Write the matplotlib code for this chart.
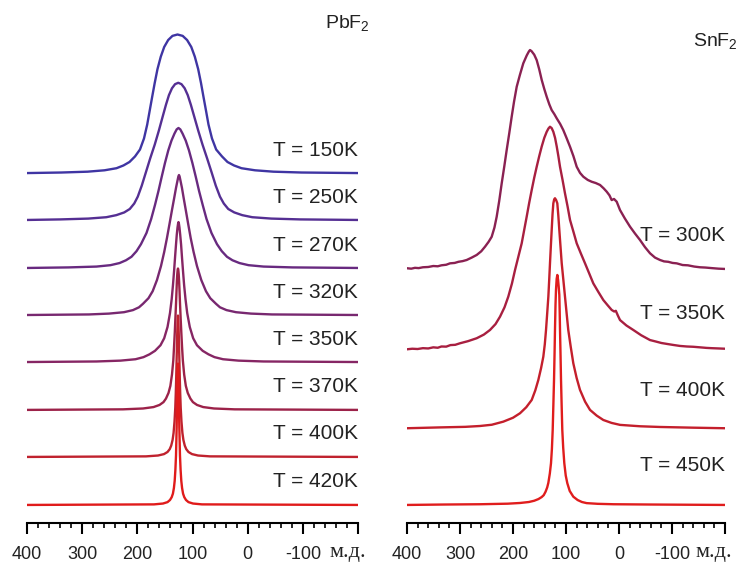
import matplotlib
matplotlib.use("Agg")
import matplotlib.pyplot as plt
from matplotlib.ticker import FixedLocator, MultipleLocator

plt.rcParams["font.family"] = ["Liberation Sans", "DejaVu Sans"]
plt.rcParams["mathtext.fontset"] = "custom"
plt.rcParams["mathtext.rm"] = "Liberation Sans"

LEVELS = [0.004, 0.01, 0.02, 0.035, 0.055, 0.08, 0.12, 0.17, 0.25, 0.35,
          0.45, 0.55, 0.65, 0.75, 0.84, 0.91, 0.96, 0.99, 1.0]

PBF2_TEMPS = [150, 250, 270, 320, 350, 370, 400, 420]
# low-field (left) side position of each level, ppm
PBF2_LEFT_PPM = [
    [337.5, 290.3, 259.5, 237.8, 225.1, 214.2, 204.2, 195.2, 187.9, 182.1,
     177.6, 173.1, 168.5, 163.5, 157.5, 151.3, 144.1, 136.3, 127.2],
    [339.7, 288.9, 256.3, 238.2, 223.7, 213.7, 205.6, 199.2, 192.0, 184.3,
     176.6, 168.4, 161.1, 154.3, 148.1, 142.7, 137.2, 131.6, 125.8],
    [324.8, 274.0, 248.7, 232.3, 220.6, 210.6, 201.5, 193.4, 183.4, 174.9,
     168.0, 161.7, 155.9, 149.9, 143.9, 138.1, 132.7, 128.7, 125.4],
    [287.6, 251.4, 224.2, 207.9, 197.0, 189.8, 179.8, 172.2, 164.4, 157.1,
     151.3, 146.3, 141.7, 137.2, 133.0, 129.8, 127.2, 125.6, 124.5],
    [274.0, 230.5, 203.3, 188.8, 178.0, 168.0, 158.0, 151.3, 145.3, 140.8,
     137.7, 135.4, 133.4, 131.6, 129.9, 128.5, 127.2, 126.1, 125.4],
    [226.0, 189.7, 170.7, 159.8, 152.6, 148.1, 143.5, 140.1, 137.2, 134.8,
     133.4, 132.1, 131.0, 129.9, 129.0, 128.3, 127.6, 126.9, 126.3],
    [184.3, 162.6, 151.7, 145.3, 141.3, 138.6, 136.1, 134.3, 132.6, 131.2,
     130.3, 129.6, 129.0, 128.4, 127.9, 127.4, 127.0, 126.7, 126.3],
    [169.8, 153.5, 145.3, 140.8, 137.7, 135.5, 133.7, 132.3, 131.0, 129.9,
     129.3, 128.7, 128.3, 127.9, 127.5, 127.2, 126.8, 126.6, 126.3],
]
# high-field (right) side position of each level, ppm
PBF2_RIGHT_PPM = [
    [-97.6, -46.8, -13.3, 11.2, 24.8, 36.6, 46.5, 57.1, 64.7, 71.0,
     75.5, 80.1, 84.6, 89.7, 95.8, 102.2, 109.8, 117.8, 127.2],
    [-95.3, -42.8, -8.3, 9.8, 24.3, 35.2, 43.3, 50.2, 57.8, 65.6,
     73.6, 81.9, 89.5, 96.6, 103.0, 108.6, 114.2, 120.0, 125.8],
    [-81.2, -28.7, -1.5, 14.8, 27.5, 37.5, 46.9, 55.6, 65.6, 74.6,
     81.5, 88.1, 94.0, 100.2, 106.4, 112.3, 118.0, 122.1, 125.4],
    [-44.1, -6.0, 21.2, 38.4, 50.2, 57.4, 67.8, 75.6, 84.1, 91.9,
     98.0, 103.3, 107.8, 112.2, 116.2, 119.2, 121.8, 123.4, 124.5],
    [-28.7, 16.6, 44.7, 60.1, 71.0, 81.5, 91.9, 98.8, 104.9, 109.6,
     112.7, 115.2, 117.2, 119.1, 120.7, 122.3, 123.6, 124.7, 125.4],
    [23.6, 61.0, 80.6, 91.8, 99.2, 103.8, 108.6, 112.1, 115.1, 117.5,
     119.0, 120.3, 121.5, 122.6, 123.5, 124.3, 125.0, 125.7, 126.3],
    [68.3, 90.0, 100.9, 107.3, 111.3, 114.0, 116.5, 118.3, 120.0, 121.4,
     122.3, 123.0, 123.6, 124.2, 124.7, 125.2, 125.6, 125.9, 126.3],
    [82.8, 99.1, 107.3, 111.8, 114.9, 117.1, 118.9, 120.3, 121.6, 122.7,
     123.3, 123.9, 124.3, 124.7, 125.1, 125.4, 125.8, 126.0, 126.3],
]
PBF2_HEIGHT = [0.99, 0.98, 1.0, 1.0, 1.0, 1.01, 1.01, 1.01]
PBF2_OFFSET = [2.371, 2.036, 1.693, 1.357, 1.021, 0.679, 0.343, 0.0]
PBF2_COLORS = ["#3f35a3", "#552f93", "#682a80", "#782870", "#862664", "#9c2249", "#c0222e", "#e01b1b"]

SNF2_TEMPS = [300, 350, 400, 450]
SNF2_PPM = [
    [400, 392, 385, 378, 370, 360, 350.4, 342, 335, 326, 318.9, 310, 303, 295, 287.4,
     278, 268.5, 260, 252.8, 246, 240.2, 235, 230.8, 226, 221.3, 216.5, 211.9, 207,
     202.5, 198, 193.0, 187, 180.6, 174, 170, 167.9, 165, 160, 155.3, 150.5, 145.8,
     141, 136.4, 131.5, 127.0, 122, 117.5, 111, 105.1, 99, 92.4, 86, 79.8, 73.5, 67.3,
     59, 51.5, 44, 35.8, 29, 23.2, 18, 13.8, 9.4, 4.3, -1.9, -11, -20.8, -30, -39.6,
     -49, -58.5, -68, -77.4, -85, -93, -101, -108.9, -120, -130, -142, -152.8, -163,
     -175, -188, -200],
    [400, 390, 380, 370, 360, 350.4, 342, 335, 326, 318, 309, 300.0, 285, 268.5, 255,
     243.4, 233, 224.5, 216, 208.9, 202, 196.2, 190, 183.6, 179, 174.2, 169.5, 164.7,
     160, 155.3, 150.5, 145.8, 141, 136.4, 133, 130.2, 127, 123.9, 120.6, 117.5, 114.4,
     111.3, 106.5, 101.9, 97, 92.4, 86, 79.8, 72, 64.1, 56, 48.5, 39, 29.6, 21.5, 13.8,
     9, 6, 2, -1.9, -14, -27.0, -42, -58.5, -70, -80, -91, -102.5, -115, -128, -140,
     -152.8, -165, -175, -188, -200],
    [400, 337.7, 290, 262.3, 240, 218.3, 200, 186.8, 175, 164.7, 158, 152.2, 147, 142.8,
     140, 137.7, 135.5, 133.3, 131.7, 130.2, 128.6, 127.0, 125.4, 123.9, 122.3, 120.8,
     118.6, 116.4, 114.5, 112.6, 110.4, 108.1, 105, 101.9, 98.8, 95.7, 91, 86.2, 80,
     73.6, 64, 54.7, 42, 29.6, 14, -2.0, -40, -77.4, -140, -200],
    [400, 330, 262, 210, 186.8, 170, 160, 152, 146, 142, 138.5, 135.5, 133.3, 130.5,
     128.3, 126.6, 125.1, 123.8, 122.6, 121.6, 120.8, 119.8, 118.9, 117.6, 116.4,
     115.0, 113.8, 112.6, 111.9, 111.3, 110.3, 109.4, 108.2, 107.0, 105.3, 103.2,
     100.5, 97.5, 93, 86.2, 78, 70, 61.1, 40, 10, -60, -200],
]
SNF2_INT = [
    [0.009, 0.006, 0.012, 0.010, 0.016, 0.018, 0.025, 0.023, 0.030, 0.034, 0.044, 0.047,
     0.055, 0.060, 0.068, 0.085, 0.104, 0.130, 0.163, 0.198, 0.234, 0.300, 0.377, 0.490,
     0.616, 0.735, 0.854, 0.975, 1.091, 1.200, 1.306, 1.390, 1.473, 1.530, 1.558, 1.568,
     1.560, 1.535, 1.496, 1.430, 1.354, 1.290, 1.234, 1.180, 1.139, 1.110, 1.080, 1.040,
     0.996, 0.940, 0.877, 0.810, 0.734, 0.690, 0.663, 0.640, 0.627, 0.618, 0.604, 0.580,
     0.556, 0.530, 0.496, 0.504, 0.484, 0.425, 0.365, 0.306, 0.258, 0.211, 0.160, 0.116,
     0.085, 0.068, 0.058, 0.055, 0.047, 0.044, 0.032, 0.030, 0.021, 0.016, 0.014, 0.010,
     0.006, 0.004],
    [0.0, 0.004, 0.002, 0.008, 0.006, 0.014, 0.011, 0.020, 0.019, 0.030, 0.032, 0.043,
     0.058, 0.079, 0.105, 0.138, 0.180, 0.233, 0.300, 0.376, 0.470, 0.566, 0.660, 0.757,
     0.850, 0.947, 1.045, 1.138, 1.225, 1.304, 1.380, 1.449, 1.510, 1.554, 1.578, 1.590,
     1.580, 1.554, 1.510, 1.449, 1.380, 1.304, 1.210, 1.114, 1.020, 0.924, 0.840, 0.757,
     0.685, 0.614, 0.540, 0.471, 0.410, 0.352, 0.315, 0.281, 0.270, 0.275, 0.240, 0.209,
     0.170, 0.138, 0.100, 0.066, 0.055, 0.045, 0.038, 0.031, 0.024, 0.020, 0.018, 0.014,
     0.010, 0.008, 0.006, 0.004],
    [0.0, 0.006, 0.010, 0.016, 0.025, 0.047, 0.075, 0.107, 0.150, 0.202, 0.270, 0.345,
     0.430, 0.511, 0.600, 0.702, 0.820, 0.940, 1.060, 1.179, 1.300, 1.416, 1.530, 1.607,
     1.635, 1.643, 1.630, 1.607, 1.520, 1.416, 1.300, 1.179, 1.060, 0.940, 0.820, 0.702,
     0.580, 0.464, 0.360, 0.274, 0.190, 0.131, 0.090, 0.059, 0.038, 0.024, 0.014, 0.009,
     0.004, 0.0],
    [0.0, 0.003, 0.005, 0.009, 0.014, 0.021, 0.030, 0.042, 0.056, 0.070, 0.095, 0.125,
     0.158, 0.225, 0.298, 0.400, 0.536, 0.720, 0.893, 1.080, 1.250, 1.430, 1.536, 1.615,
     1.643, 1.610, 1.560, 1.500, 1.380, 1.250, 1.070, 0.893, 0.710, 0.536, 0.410, 0.298,
     0.210, 0.155, 0.100, 0.059, 0.035, 0.021, 0.013, 0.008, 0.005, 0.003, 0.0],
]
SNF2_OFFSET = [1.682, 1.112, 0.548, 0.0]
SNF2_LABEL_LIFT = [0.243, 0.257, 0.271, 0.282]
SNF2_COLORS = ["#8a2152", "#a81f40", "#c41f2c", "#e01d1d"]

TICKS = [400, 300, 200, 100, 0, -100, -200]
TICK_LABELS = ["400", "300", "200", "100", "0", "-100", ""]


def pbf2_curve(left, right, height, offset):
    xs = [400.0] + left + right[::-1][1:] + [-200.0]
    ys = [0.0] + LEVELS + LEVELS[::-1][1:] + [0.0]
    return xs, [offset + height * v for v in ys]


def style_axis(ax):
    ax.set_xlim(400, -200)
    ax.set_ylim(-0.129, 3.536)
    for side in ("left", "right", "top"):
        ax.spines[side].set_visible(False)
    ax.spines["bottom"].set_linewidth(1.5)
    ax.yaxis.set_visible(False)
    ax.xaxis.set_major_locator(FixedLocator(TICKS))
    ax.set_xticklabels(TICK_LABELS)
    ax.xaxis.set_minor_locator(MultipleLocator(20))
    ax.tick_params(axis="x", which="major", length=8, width=1.5, pad=8.5, labelsize=13, labelcolor="#222222")
    ax.tick_params(axis="x", which="minor", length=3.5, width=1.2)
    ax.set_facecolor("none")


fig = plt.figure(figsize=(7.49, 5.72), dpi=100)
ax_l = fig.add_axes([27 / 749, 49 / 572, 331 / 749, 513 / 572])
ax_r = fig.add_axes([407 / 749, 49 / 572, 318 / 749, 513 / 572])

for temp, left, right, h, off, c in zip(PBF2_TEMPS, PBF2_LEFT_PPM, PBF2_RIGHT_PPM,
                                        PBF2_HEIGHT, PBF2_OFFSET, PBF2_COLORS):
    xs, ys = pbf2_curve(left, right, h, off)
    ax_l.plot(xs, ys, color=c, linewidth=1.7, solid_joinstyle="round")
    ax_l.text(-200, off + 0.164, f"T = {temp}K", ha="right", va="center", fontsize=15, color="#222222")

for temp, xs, ys, off, lift, c in zip(SNF2_TEMPS, SNF2_PPM, SNF2_INT, SNF2_OFFSET,
                                      SNF2_LABEL_LIFT, SNF2_COLORS):
    ax_r.plot(xs, [off + v for v in ys], color=c, linewidth=1.7, solid_joinstyle="round")
    ax_r.text(-200, off + lift, f"T = {temp}K", ha="right", va="center", fontsize=15, color="#222222")

style_axis(ax_l)
style_axis(ax_r)

fig.text(370 / 749, 1 - 24 / 572, r"PbF$_{\mathregular{2}}$", ha="right", va="center", fontsize=14, color="#222222")
fig.text(738 / 749, 1 - 42 / 572, r"SnF$_{\mathregular{2}}$", ha="right", va="center", fontsize=14, color="#222222")
for xpix in (348, 714):
    fig.text(xpix / 749, 1 - 552 / 572, "м.д.", ha="center", va="center", fontsize=16,
             family=["Liberation Serif", "DejaVu Serif"], color="#222222")

fig.savefig("out.png", dpi=100)
